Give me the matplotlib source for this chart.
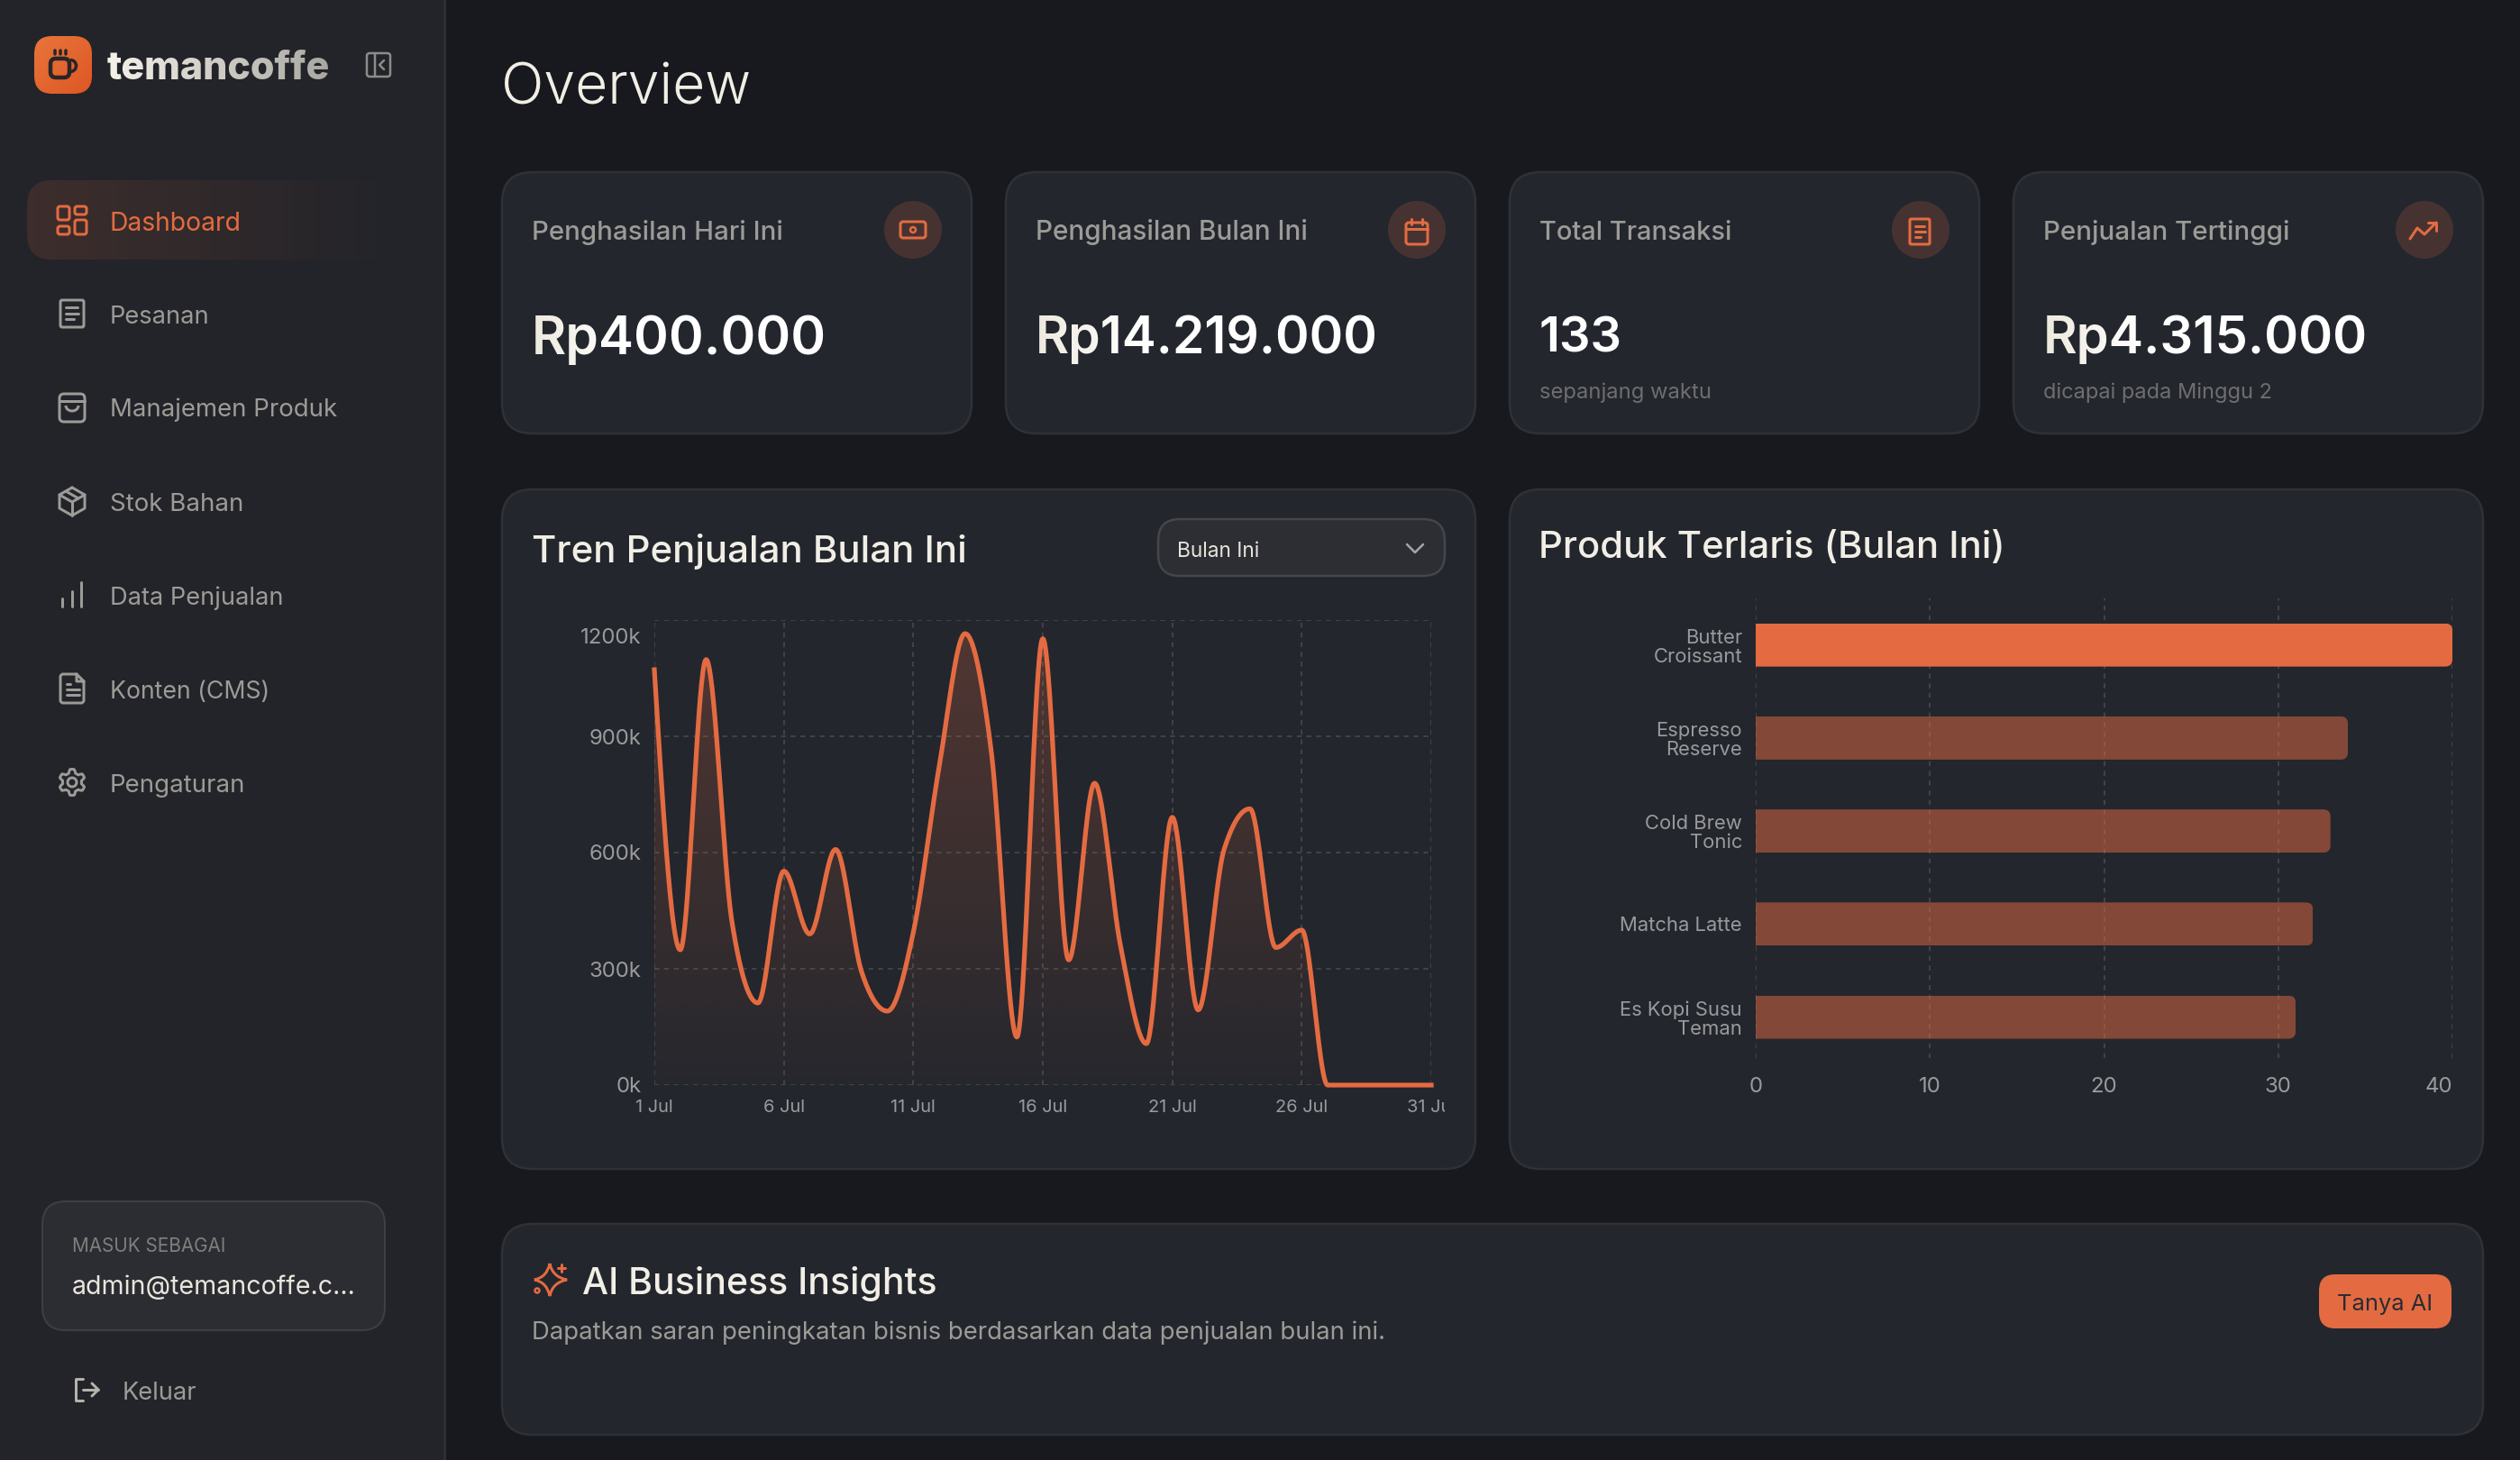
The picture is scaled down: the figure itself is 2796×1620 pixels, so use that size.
#coding:UTF-8
import numpy as np
import matplotlib
matplotlib.use('Agg')
import matplotlib.pyplot as plt
from matplotlib.patches import FancyBboxPatch, Circle, PathPatch, Arc
from matplotlib.path import Path
from matplotlib.transforms import Bbox, ScaledTranslation, IdentityTransform

W, H = 2796, 1620
FONT = 'Inter'

# data
days = [1, 2, 3, 4, 5, 6, 7, 8, 9, 10, 11, 12, 13, 14, 15, 16, 17, 18, 19, 20,
        21, 22, 23, 24, 25, 26, 27, 28, 29, 30, 31]
sales = [1072, 349, 1098, 420, 212, 552, 390, 608, 293, 191, 394, 822, 1165, 867, 124, 1152,
         323, 779, 360, 107, 691, 194, 608, 713, 355, 400, 0, 0, 0, 0, 0]
day_ticks = [1, 6, 11, 16, 21, 26, 31]
day_labels = ['1 Jul', '6 Jul', '11 Jul', '16 Jul', '21 Jul', '26 Jul', '31 Jul']
sales_ticks = [0, 300, 600, 900, 1200]
sales_labels = ['0k', '300k', '600k', '900k', '1200k']

products = ['Butter\nCroissant', 'Espresso\nReserve', 'Cold Brew\nTonic', 'Matcha Latte', 'Es Kopi Susu\nTeman']
sold = [40, 34, 33, 32, 31]
sold_ticks = [0, 10, 20, 30, 40]

menu = ['Dashboard', 'Pesanan', 'Manajemen Produk', 'Stok Bahan', 'Data Penjualan', 'Konten (CMS)', 'Pengaturan']
card_titles = ['Penghasilan Hari Ini', 'Penghasilan Bulan Ini', 'Total Transaksi', 'Penjualan Tertinggi']
card_values = ['Rp400.000', 'Rp14.219.000', '133', 'Rp4.315.000']
card_notes = ['', '', 'sepanjang waktu', 'dicapai pada Minggu 2']

ORANGE = '#e46b41'
BG = '#18191e'
SIDE = '#232429'
CARD = '#23262d'
EDGE = '#2f3136'
GREY = '#9c9b97'
TICK = '#9a9a9c'
CREAM = '#f1eee5'
GRID = '#45464a'

fig = plt.figure(figsize=(W / 100, H / 100), dpi=100, facecolor=BG)
bg = fig.add_axes([0, 0, 1, 1], zorder=0)
bg.set_xlim(0, W)
bg.set_ylim(H, 0)
bg.axis('off')
renderer = fig.canvas.get_renderer()


def px(v):
    return v * 0.72


def box(x0, y0, x1, y1, r, fc, ec='none', lw=0, z=1):
    p = FancyBboxPatch((x0, y0), x1 - x0, y1 - y0, boxstyle='round,pad=0,rounding_size=%g' % r,
                       fc=fc, ec=ec, lw=px(lw), zorder=z)
    bg.add_patch(p)
    return p


def put(x, y, s, size, color, width=None, weight='normal', ha='left', z=5):
    t = bg.text(x, y, s, fontsize=px(size), color=color, family=FONT, weight=weight,
                ha=ha, va='center_baseline', zorder=z)
    if width:
        w = t.get_window_extent(renderer).width
        t.set_fontsize(px(size) * width / w)
    return t


def fade(c0, c1, stop=1.0):
    # colour ramp over a text from left to right
    c0 = np.array(matplotlib.colors.to_rgb(c0))
    c1 = np.array(matplotlib.colors.to_rgb(c1))

    def f(img, dpi):
        n = img.shape[1]
        k = np.clip(np.arange(n) / (n * stop), 0, 1)[None, :, None]
        img = img.copy()
        img[:, :, :3] = c0 * (1 - k) + c1 * k
        return img, 0, 0
    return f


def stroke(xs, ys, color=GREY, lw=3, z=4):
    bg.plot(xs, ys, color=color, lw=px(lw), solid_capstyle='round', solid_joinstyle='round', zorder=z)


def rbox(x0, y0, x1, y1, r, color=GREY, lw=3, z=4):
    box(x0, y0, x1, y1, r, 'none', color, lw, z)


def gradient(x0, y0, x1, y1, rgba_a, rgba_b, clip, z=2):
    a = np.array(rgba_a)
    b = np.array(rgba_b)
    k = np.linspace(0, 1, 256)[None, :, None]
    im = bg.imshow(a * (1 - k) + b * k, extent=(x0, x1, y1, y0), aspect='auto', zorder=z)
    im.set_clip_path(clip)


def monotone(x, y, n=40):
    # same curve as a d3 monotone line, tangents flat at the turning points
    x = np.asarray(x, float)
    y = np.asarray(y, float)
    h = np.diff(x)
    s = np.diff(y) / h
    t = np.zeros(len(x))
    for i in range(1, len(x) - 1):
        p = (s[i - 1] * h[i] + s[i] * h[i - 1]) / (h[i - 1] + h[i])
        t[i] = (np.sign(s[i - 1]) + np.sign(s[i])) * min(abs(s[i - 1]), abs(s[i]), 0.5 * abs(p))
    t[0] = (3 * s[0] - t[1]) / 2
    t[-1] = (3 * s[-1] - t[-2]) / 2
    xs, ys = [], []
    for i in range(len(x) - 1):
        u = np.linspace(0, 1, n, endpoint=False)
        xs.append(x[i] + u * h[i])
        ys.append((2 * u**3 - 3 * u**2 + 1) * y[i] + (u**3 - 2 * u**2 + u) * h[i] * t[i]
                  + (-2 * u**3 + 3 * u**2) * y[i + 1] + (u**3 - u**2) * h[i] * t[i + 1])
    xs.append(x[-1:])
    ys.append(y[-1:])
    return np.concatenate(xs), np.concatenate(ys)


# sidebar
bg.fill_between([0, 492], 0, H, color=SIDE, lw=0, zorder=0.5)
bg.fill_between([492, 495], 0, H, color='#2d2e33', lw=0, zorder=0.5)

logo = box(38, 40, 102, 104, 20, 'none', z=1)
k = np.linspace(0, 1, 64)
grad = np.zeros((64, 64, 3))
for i in range(64):
    for j in range(64):
        m = (k[i] + k[j]) / 2
        grad[i, j] = np.array([0.91, 0.46, 0.24]) * (1 - m) + np.array([0.87, 0.34, 0.14]) * m
im = bg.imshow(grad, extent=(38, 102, 104, 40), aspect='auto', zorder=2)
im.set_clip_path(logo)
DARK = '#2a2527'
box(56, 65, 77, 86, 6, 'none', DARK, 4.5, 3)
bg.add_patch(Arc((78, 73), 13, 13, theta1=-90, theta2=90, color=DARK, lw=px(3.5), zorder=3))
for cx in [60.5, 67, 73]:
    stroke([cx, cx], [56, 60], DARK, 3.5, 3)

name = put(119, 72, 'temancoffe', 42, CREAM, width=248, weight=800)
name.set_agg_filter(fade('#f5f2ea', '#a8a7a1'))

rbox(407, 59, 433, 85, 3, '#8c8c8a', 2.5)
stroke([416, 416], [59, 85], '#8c8c8a', 2.5)
stroke([426, 421, 426], [67, 72, 77], '#8c8c8a', 2.5)

menu_y = [245, 349, 452, 557, 661, 765, 869]
menu_w = [147, 111, 253, 149, 193, 178, 151]
hi = box(30, 200, 440, 288, 28, 'none', z=1)
gradient(30, 200, 440, 288, (0.894, 0.42, 0.255, 0.14), (0.894, 0.42, 0.255, 0.0), hi)
for i in range(len(menu)):
    put(121.5, menu_y[i], menu[i], 30, ORANGE if i == 0 else GREY, width=menu_w[i])

# menu icons
for x0, y0, w, h in [(64, 229, 13, 15), (83, 229, 13, 9), (64, 251, 13, 9), (83, 244, 13, 16)]:
    rbox(x0, y0, x0 + w, y0 + h, 2.5, ORANGE, 3)
rbox(67, 333, 93, 363, 2, GREY, 3)
for yy, xe in [(341, 86), (348, 87), (354, 82)]:
    stroke([73, xe], [yy, yy], GREY, 3)
rbox(66, 437, 94, 468, 5, GREY, 3)
stroke([66, 94], [445, 445], GREY, 3)
bg.add_patch(Arc((80, 450), 14, 12, theta1=0, theta2=180, color=GREY, lw=px(3), zorder=4))
stroke([80, 94, 94, 80, 66, 66, 80], [541, 549, 564, 572, 564, 549, 541], GREY, 3)
stroke([66, 80, 94], [549, 557, 549], GREY, 3)
stroke([80, 80], [557, 572], GREY, 3)
stroke([73, 87], [545, 553], GREY, 3)
for xx, top in [(69, 664), (80, 656), (90, 646)]:
    stroke([xx, xx], [673, top], GREY, 3)
stroke([85, 69, 67, 67, 69, 91, 93, 93, 85, 85, 93], [748, 748, 750, 778, 780, 780, 778, 756, 748, 756, 756], GREY, 3)
for yy, xe in [(759, 78), (765, 88), (771, 88)]:
    stroke([74, xe], [yy, yy], GREY, 3)
ang = np.linspace(0, 2 * np.pi, 200)
rad = 12.5 + 2.0 * np.clip(np.cos(6 * (ang + np.pi / 6)) * 1.8, -1, 1)
stroke(80 + rad * np.cos(ang), 868 + rad * np.sin(ang), GREY, 3)
bg.add_patch(Circle((80, 868), 5, fc='none', ec=GREY, lw=px(3), zorder=4))

# login box
box(47, 1333, 427, 1476, 26, '#2c2d32', '#3e3f43', 2)
put(80, 1381, 'MASUK SEBAGAI', 20, '#7f7f7e', width=170)
put(80, 1425, 'admin@temancoffe.c…', 28, '#e9e6dd', width=313)
put(136, 1543, 'Keluar', 30, GREY, width=83)
stroke([92, 84, 84, 92], [1530, 1530, 1554, 1554], '#b4b2aa', 3)
stroke([92, 109], [1542, 1542], '#b4b2aa', 3)
stroke([102, 109, 102], [1535, 1542, 1549], '#b4b2aa', 3)

# page title and cards
put(556, 92, 'Overview', 58, CREAM, width=277, weight=300)

card_x = [(557, 1078), (1116, 1637), (1675, 2196), (2234, 2755)]
title_w = [278, 302, 213, 273]
value_w = [326, 380, 92, 360]
note_w = [0, 0, 191, 254]
for i in range(4):
    x0, x1 = card_x[i]
    box(x0, 191, x1, 481, 34, CARD, EDGE, 2.5)
    put(x0 + 33, 255, card_titles[i], 28, GREY, width=title_w[i], weight=500)
    v = put(x0 + 33, 371, card_values[i], 60, '#ffffff', width=value_w[i], weight=600)
    if i != 2:
        v.set_agg_filter(fade('#eeeadf', '#ffffff', 0.3))
    if card_notes[i]:
        put(x0 + 33, 433, card_notes[i], 24, '#6e6e70', width=note_w[i])
    cx = x1 - 65
    bg.add_patch(Circle((cx, 255), 32, fc='#463331', ec='none', zorder=3))

# card icons, drawn around the middle of each circle
cx = 1013
rbox(cx - 14, 246, cx + 14, 264, 3, ORANGE, 3)
bg.add_patch(Circle((cx, 255), 3, fc='none', ec=ORANGE, lw=px(2.5), zorder=4))
stroke([cx - 8], [255], ORANGE, 3)
stroke([cx + 8], [255], ORANGE, 3)
cx = 1572
rbox(cx - 12, 247, cx + 12, 271, 3, ORANGE, 3)
stroke([cx - 12, cx + 12], [254, 254], ORANGE, 3)
stroke([cx - 6, cx - 6], [243, 249], ORANGE, 3)
stroke([cx + 6, cx + 6], [243, 249], ORANGE, 3)
for dx in [-6, 0, 6]:
    for yy in [260, 266]:
        stroke([cx + dx], [yy], ORANGE, 2.5)
cx = 2130
rbox(cx - 11, 243, cx + 11, 271, 1.5, ORANGE, 3)
for yy, xe in [(251, 5), (257, 6), (263, 1)]:
    stroke([cx - 5, cx + xe], [yy, yy], ORANGE, 3)
cx = 2689
stroke([cx - 15, cx - 7, cx + 1, cx + 14], [265, 253, 260, 247], ORANGE, 3)
stroke([cx + 5, cx + 14, cx + 14], [247, 247, 256], ORANGE, 3)

# chart cards
box(557, 543, 1637, 1297, 34, CARD, EDGE, 2.5)
box(1675, 543, 2755, 1297, 34, CARD, EDGE, 2.5)
put(590, 608, 'Tren Penjualan Bulan Ini', 40, CREAM, width=483, weight=500)
put(1707, 604, 'Produk Terlaris (Bulan Ini)', 40, CREAM, width=518, weight=500)
box(1285, 576, 1603, 639, 24, '#2d2e33', '#45464a', 2.5)
put(1306, 609, 'Bulan Ini', 24, '#e6e3da', width=92)
stroke([1561, 1570, 1579], [604, 613, 604], '#a5a5a8', 2.5)


def chart_axes(x0, y0, x1, y1):
    a = fig.add_axes([x0 / W, 1 - y1 / H, (x1 - x0) / W, (y1 - y0) / H], zorder=2)
    a.patch.set_visible(False)
    for sp in a.spines.values():
        sp.set_visible(False)
    a.tick_params(length=0, labelcolor=TICK)
    return a


dash = (0, (3, 3))

# sales line
ax1 = chart_axes(726, 688, 1588, 1204)
ax1.set_xlim(1, 31)
ax1.set_ylim(0, 1200)
ax1.set_xticks(day_ticks)
ax1.set_xticklabels(day_labels, family=FONT, fontsize=px(20))
ax1.set_yticks(sales_ticks)
ax1.set_yticklabels(sales_labels, family=FONT, fontsize=px(24))
ax1.tick_params(axis='x', pad=px(16))
ax1.tick_params(axis='y', pad=px(14))
ax1.grid(True, color=GRID, lw=px(1.8), linestyle=dash, zorder=0)
ax1.set_axisbelow(True)

line_x, line_y = monotone(days, sales)
area = np.column_stack([np.r_[line_x, line_x[-1], line_x[0]], np.r_[line_y, 0, 0]])
area_clip = PathPatch(Path(area), transform=ax1.transData, fc='none', ec='none')
ax1.add_patch(area_clip)
fill = np.zeros((256, 1, 4))
fill[:, 0, :3] = matplotlib.colors.to_rgb(ORANGE)
fill[:, 0, 3] = np.linspace(0.25, 0.02, 256)
area_im = ax1.imshow(fill, extent=(1, 31, 0, 1200), aspect='auto', origin='upper', zorder=1)
area_im.set_clip_path(area_clip)
ax1.set_xlim(1, 31)
ax1.set_ylim(0, 1200)
ax1.plot(line_x, line_y, color=ORANGE, lw=px(5.2), clip_on=False, zorder=3)

# the top label sits lower than its gridline, the last date is cut by the card padding
top_label = ax1.get_yticklabels()[-1]
top_label.set_transform(top_label.get_transform() + ScaledTranslation(0, -17 / 100, fig.dpi_scale_trans))
for lab in ax1.get_xticklabels():
    lab.set_clip_box(Bbox([[0, 0], [1603, H]]))
    lab.set_clip_on(True)

# product bars
ax2 = chart_axes(1948, 664, 2721, 1174)
ypos = [0, 1, 2, 3, 4]
bars = ax2.barh(ypos, sold, height=48 / 103.25, color=ORANGE, zorder=2)
ax2.set_xlim(0, 40)
ax2.set_ylim(4.44, -0.5)
ax2.set_xticks(sold_ticks)
ax2.set_xticklabels(sold_ticks, family=FONT, fontsize=px(24))
ax2.set_yticks(ypos)
ax2.set_yticklabels(products, family=FONT, fontsize=px(22), linespacing=1.08, ha='right')
ax2.tick_params(axis='x', pad=px(21))
ax2.tick_params(axis='y', pad=px(15))
ax2.grid(True, axis='x', color=GRID, lw=px(1.8), linestyle=dash, zorder=0)
ax2.grid(False, axis='y')
ax2.set_axisbelow(True)
ax2.get_xticklabels()[-1].set_ha('right')
for i, b in enumerate(bars):
    if i > 0:
        b.set_alpha(0.5)
    (l, t), (r, d) = ax2.transData.transform([(0, ypos[i] - 24 / 103.25), (sold[i], ypos[i] + 24 / 103.25)])
    clip = FancyBboxPatch((l - 12, d), r - l + 12, t - d, boxstyle='round,pad=0,rounding_size=8',
                          transform=IdentityTransform())
    b.set_clip_path(clip)

# AI card
box(557, 1358, 2755, 1592, 34, CARD, EDGE, 2.5)
star = Path([(610, 1402), (613, 1417), (629, 1420), (613, 1423), (610, 1438), (607, 1423), (593, 1420), (607, 1417), (610, 1402)],
            [Path.MOVETO, Path.CURVE3, Path.CURVE3, Path.CURVE3, Path.CURVE3, Path.CURVE3, Path.CURVE3, Path.CURVE3, Path.CURVE3])
bg.add_patch(PathPatch(star, fc='none', ec=ORANGE, lw=px(3), zorder=4))
stroke([623, 623], [1403, 1411], ORANGE, 3)
stroke([619, 627], [1407, 1407], ORANGE, 3)
bg.add_patch(Circle((596, 1432), 2.5, fc='none', ec=ORANGE, lw=px(2.5), zorder=4))
put(646, 1420, 'AI Business Insights', 42, CREAM, width=393, weight=500)
put(590, 1476, 'Dapatkan saran peningkatan bisnis berdasarkan data penjualan bulan ini.', 30, GREY, width=950)
box(2573, 1414, 2720, 1474, 18, ORANGE)
put(2646, 1445, 'Tanya AI', 28, '#2a2c33', width=106, ha='center')

bg.set_xlim(0, W)
bg.set_ylim(H, 0)
fig.savefig('out.png', dpi=100, facecolor=BG)
